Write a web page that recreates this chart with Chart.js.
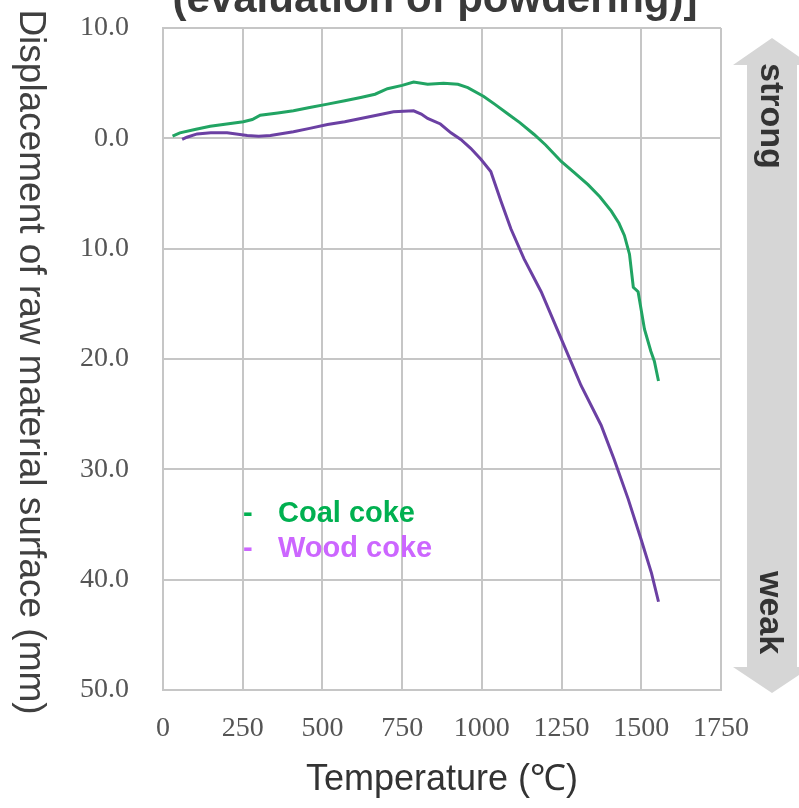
<!DOCTYPE html>
<html>
<head>
<meta charset="utf-8">
<script src="https://cdn.jsdelivr.net/npm/chart.js@4.4.0/dist/chart.umd.min.js"></script>
<style>
  html, body { margin: 0; padding: 0; background: #fff; }
  #wrap { width: 799px; height: 808px; }
</style>
</head>
<body>
<div id="wrap"><canvas id="chart1" width="799" height="808"></canvas></div>
<script>
// values
var coalTemp = [30, 53, 100, 148, 200, 252, 280, 305, 360, 409, 460, 516, 570, 620, 665, 704, 750, 786, 830, 880, 925, 956, 1006, 1040, 1082, 1120, 1164, 1200, 1249, 1290, 1333, 1370, 1406, 1430, 1447, 1463, 1475, 1490, 1510, 1530, 1541, 1554];
var coalDisp = [0.2, 0.5, 0.8, 1.1, 1.3, 1.5, 1.7, 2.1, 2.3, 2.5, 2.8, 3.1, 3.4, 3.7, 4.0, 4.5, 4.8, 5.1, 4.9, 5.0, 4.9, 4.6, 3.8, 3.1, 2.2, 1.4, 0.35, -0.6, -2.1, -3.1, -4.2, -5.3, -6.6, -7.7, -8.8, -10.5, -13.5, -13.9, -17.3, -19.3, -20.2, -22.0];
var woodTemp = [60, 75, 107, 150, 201, 264, 300, 337, 409, 460, 516, 570, 620, 670, 723, 786, 810, 830, 870, 903, 934, 965, 997, 1028, 1060, 1091, 1132, 1186, 1239, 1289, 1311, 1374, 1415, 1459, 1500, 1532, 1554];
var woodDisp = [-0.1, 0.1, 0.4, 0.5, 0.5, 0.25, 0.2, 0.25, 0.6, 0.9, 1.25, 1.5, 1.8, 2.1, 2.4, 2.5, 2.2, 1.8, 1.3, 0.5, -0.1, -0.9, -1.9, -3.0, -5.7, -8.2, -10.9, -13.9, -17.5, -20.9, -22.4, -26.0, -29.1, -32.7, -36.4, -39.4, -42.0];
var seriesNames = ["Coal coke", "Wood coke"];
var lineColors = ["#21a463", "#6b40a3"];
var legendColors = ["#00b050", "#cc66ff"];
var xTicks = [0, 250, 500, 750, 1000, 1250, 1500, 1750];
var yTicks = [10, 0, -10, -20, -30, -40, -50];

function toPoints(xs, ys) {
  return xs.map(function (x, i) { return { x: x, y: ys[i] }; });
}

Chart.defaults.font.family = "'Liberation Sans', Arial, sans-serif";

var extras = {
  id: "extras",
  afterDraw: function (chart) {
    var ctx = chart.ctx;
    ctx.save();

    // title, cut at the top like the source
    ctx.fillStyle = "#3a3a3a";
    ctx.font = "bold 42px 'Liberation Sans', Arial, sans-serif";
    ctx.textAlign = "center";
    ctx.textBaseline = "alphabetic";
    ctx.fillText("(evaluation of powdering)]", 435, 12);

    // y title, reading downwards
    ctx.save();
    ctx.translate(20, 362);
    ctx.rotate(Math.PI / 2);
    ctx.font = "37px 'Liberation Sans', Arial, sans-serif";
    ctx.fillStyle = "#404040";
    ctx.textAlign = "center";
    ctx.fillText("Displacement of raw material surface (mm)", 0, 0);
    ctx.restore();

    // strong / weak arrow
    ctx.fillStyle = "#d6d6d6";
    ctx.beginPath();
    ctx.moveTo(772, 38);
    ctx.lineTo(811, 65);
    ctx.lineTo(797, 65);
    ctx.lineTo(797, 667);
    ctx.lineTo(811, 667);
    ctx.lineTo(772, 693);
    ctx.lineTo(733, 667);
    ctx.lineTo(747, 667);
    ctx.lineTo(747, 65);
    ctx.lineTo(733, 65);
    ctx.closePath();
    ctx.fill();

    ctx.fillStyle = "#333";
    ctx.font = "bold 34px 'Liberation Sans', Arial, sans-serif";
    ctx.textAlign = "left";
    ctx.save();
    ctx.translate(761, 63);
    ctx.rotate(Math.PI / 2);
    ctx.fillText("strong", 0, 0);
    ctx.restore();
    ctx.save();
    ctx.translate(760, 571);
    ctx.rotate(Math.PI / 2);
    ctx.fillText("weak", 0, 0);
    ctx.restore();

    // legend inside the plot
    ctx.font = "bold 29px 'Liberation Sans', Arial, sans-serif";
    seriesNames.forEach(function (name, i) {
      var y = 522 + i * 35;
      ctx.fillStyle = legendColors[i];
      ctx.fillText("-", 243, y);
      ctx.fillText(name, 278, y);
    });

    ctx.restore();
  }
};

var ctx = document.getElementById("chart1");
var myChart = new Chart(ctx, {
  type: "line",
  data: {
    datasets: [
      {
        label: seriesNames[0],
        data: toPoints(coalTemp, coalDisp),
        borderColor: lineColors[0],
        borderWidth: 3,
        pointRadius: 0,
        tension: 0,
        fill: false,
      },
      {
        label: seriesNames[1],
        data: toPoints(woodTemp, woodDisp),
        borderColor: lineColors[1],
        borderWidth: 3,
        pointRadius: 0,
        tension: 0,
        fill: false,
      },
    ],
  },
  options: {
    responsive: false,
    animation: false,
    layout: { padding: { top: 28, right: 78, bottom: 0, left: 0 } },
    plugins: {
      legend: { display: false },
      tooltip: { enabled: false },
    },
    scales: {
      x: {
        type: "linear",
        min: xTicks[0],
        max: xTicks[xTicks.length - 1],
        afterBuildTicks: function (scale) {
          scale.ticks = xTicks.map(function (v) { return { value: v }; });
        },
        afterFit: function (scale) { scale.height = 118; },
        grid: { color: "#c6c6c6", lineWidth: 2, drawTicks: false },
        border: { color: "#c6c6c6", width: 2 },
        ticks: {
          padding: 22,
          color: "#555",
          font: { family: "'Liberation Serif', serif", size: 28 },
          callback: function (v) { return String(v); },
        },
        title: {
          display: true,
          text: "Temperature (\u2103)",
          color: "#333",
          font: { size: 36 },
          padding: { top: 0, bottom: 6 },
        },
      },
      y: {
        min: -50,
        max: 10,
        afterBuildTicks: function (scale) {
          scale.ticks = yTicks.slice().reverse().map(function (v) { return { value: v }; });
        },
        afterFit: function (scale) {
          scale.width = 163;
          scale.paddingTop = 10;
          scale.paddingBottom = 10;
        },
        grid: { color: "#c6c6c6", lineWidth: 2, drawTicks: false },
        border: { color: "#c6c6c6", width: 2 },
        ticks: {
          padding: 34,
          color: "#555",
          font: { family: "'Liberation Serif', serif", size: 28 },
          callback: function (v) { return Math.abs(v).toFixed(1); },
        },
      },
    },
  },
  plugins: [extras],
});
</script>
</body>
</html>
